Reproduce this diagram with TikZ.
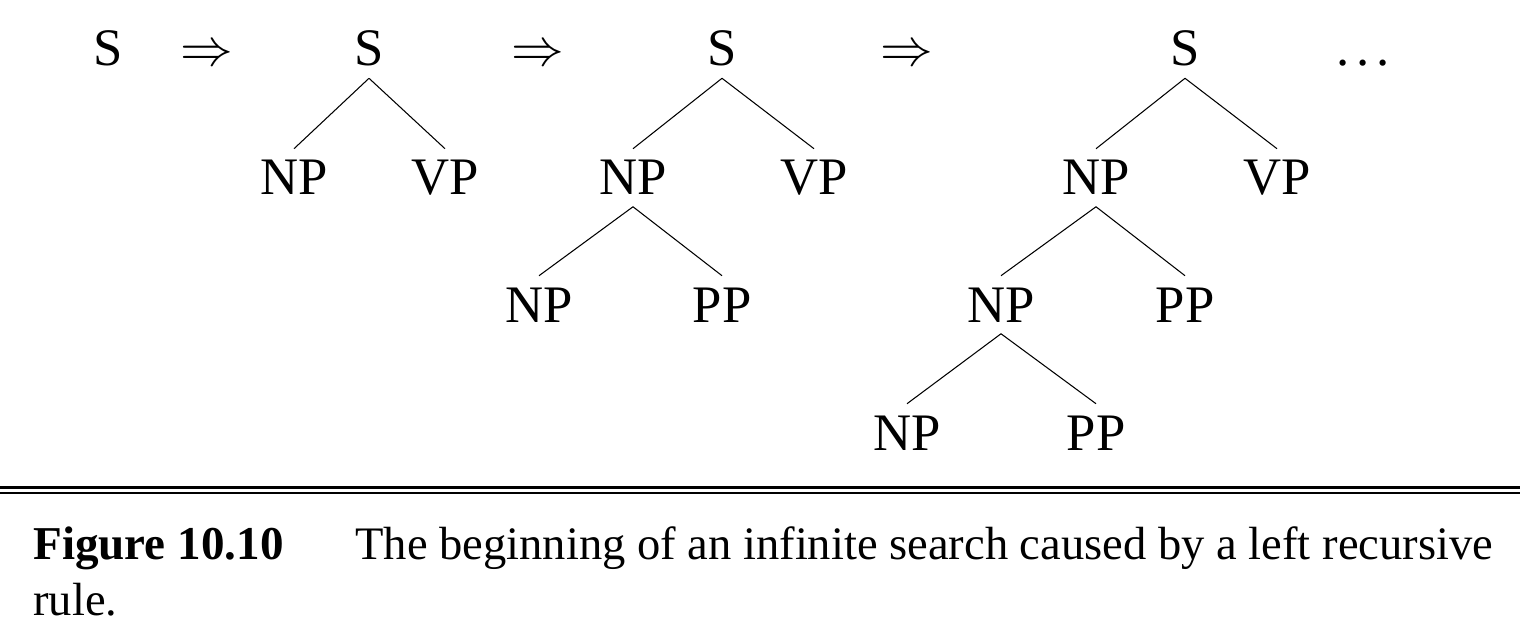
\RequirePackage{fix-cm}
\documentclass[tikz,border=0pt]{standalone}
\usepackage{fontspec}
\setmainfont{Liberation Serif}
\begin{document}
\begin{tikzpicture}[x=0.02cm, y=-0.02cm,
    cat/.style={anchor=base, inner xsep=0pt, inner ysep=6.5pt,
      font=\fontsize{30}{36}\selectfont},
    branch/.style={line width=0.6pt},
    capt/.style={anchor=base west, inner sep=0pt,
      font=\fontsize{26.5}{32}\selectfont}]
  \useasboundingbox (0,0) rectangle (1520,638);
  %
  \node[cat] (s0)  at (108,66)  {S};              % start symbol
  \node[cat] (ar1) at (207,66)  {$\Rightarrow$};
  \node[cat] (ar2) at (538,66)  {$\Rightarrow$};
  \node[cat] (ar3) at (907,66)  {$\Rightarrow$};
  \node[cat] (etc) at (1363,66) {.\kern4pt.\kern4pt.};
  %
  \node[cat] (s1)  at (369,66)  {S};              % first tree
  \node[cat] (np1) at (294,195) {NP};
  \node[cat] (vp1) at (445,195) {VP};
  \draw[branch] (s1.south) -- (np1.north);
  \draw[branch] (s1.south) -- (vp1.north);
  %
  \node[cat] (s2)   at (722,66)  {S};             % second tree
  \node[cat] (np2)  at (633,195) {NP};
  \node[cat] (vp2)  at (814,195) {VP};
  \node[cat] (np2a) at (539,322) {NP};
  \node[cat] (pp2a) at (722,322) {PP};
  \draw[branch] (s2.south) -- (np2.north);
  \draw[branch] (s2.south) -- (vp2.north);
  \draw[branch] (np2.south) -- (np2a.north);
  \draw[branch] (np2.south) -- (pp2a.north);
  %
  \node[cat] (s3)   at (1185,66)  {S};            % third tree
  \node[cat] (np3)  at (1096,195) {NP};
  \node[cat] (vp3)  at (1277,195) {VP};
  \node[cat] (np3a) at (1001,322) {NP};
  \node[cat] (pp3a) at (1185,322) {PP};
  \node[cat] (np3b) at (907,450)  {NP};
  \node[cat] (pp3b) at (1096,450) {PP};
  \draw[branch] (s3.south) -- (np3.north);
  \draw[branch] (s3.south) -- (vp3.north);
  \draw[branch] (np3.south) -- (np3a.north);
  \draw[branch] (np3.south) -- (pp3a.north);
  \draw[branch] (np3a.south) -- (np3b.north);
  \draw[branch] (np3a.south) -- (pp3b.north);
  %
  \draw[line width=1.4pt] (0,487.5) -- (1520,487.5); % double rule
  \draw[line width=1.7pt] (0,493) -- (1520,493);
  %
  \node[capt, font=\fontsize{26.8}{32}\selectfont\bfseries] (fig) at (33,559) {Figure 10.10};
  \node[capt] (capa) at (355,559) {The beginning of an infinite search caused by a left recursive};
  \node[capt] (capb) at (33,615)  {rule.};
\end{tikzpicture}
\end{document}
